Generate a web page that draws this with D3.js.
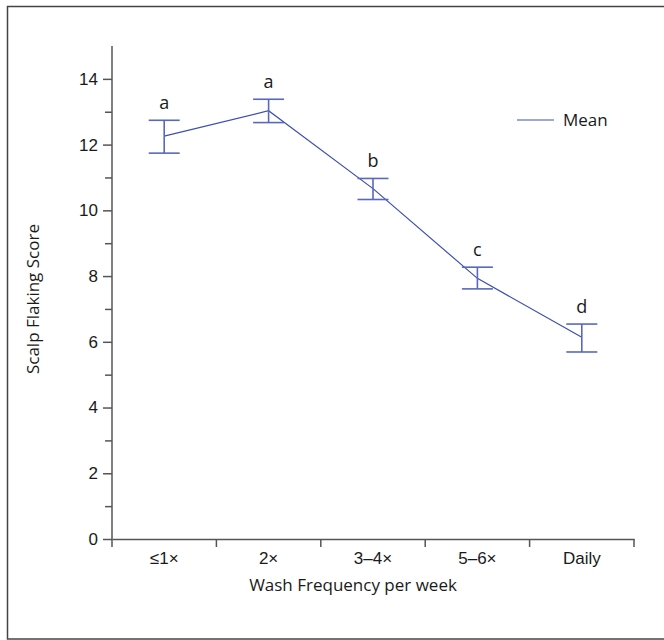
<!DOCTYPE html>
<html>
<head>
<meta charset="utf-8">
<script src="https://cdn.jsdelivr.net/npm/d3@7"></script>
<style>
  html, body { margin: 0; padding: 0; background: #fff; }
  svg { display: block; font-family: "Open Sans", "Noto Sans", sans-serif; }
</style>
</head>
<body>
<script>
// Wash frequency groups and scalp flaking scores (mean with error range)
const categories = ["≤1×", "2×", "3–4×", "5–6×", "Daily"];
const means      = [12.26, 13.03, 10.66, 7.93, 6.14];
const upper      = [12.74, 13.38, 10.97, 8.27, 6.54];
const lower      = [11.74, 12.67, 10.33, 7.61, 5.69];
const groupLetters = ["a", "a", "b", "c", "d"];
const yTicks     = [0, 2, 4, 6, 8, 10, 12, 14];
const yMinorTicks = [1, 3, 5, 7, 9, 11, 13];

const W = 664, H = 640;
const margin = { left: 112, right: 30, top: 46, bottom: 101 };

const svg = d3.select("body").append("svg")
  .attr("width", W).attr("height", H);

// outer frame
svg.append("rect")
  .attr("x", 7.5).attr("y", 6.5)
  .attr("width", 680).attr("height", 632.5)
  .attr("fill", "none").attr("stroke", "#444").attr("stroke-width", 1.5);

const x = d3.scaleBand()
  .domain(categories)
  .range([margin.left, W - margin.right]);

const y = d3.scaleLinear()
  .domain([0, 15])
  .range([H - margin.bottom, margin.top]);

const axisColor = "#555";
const textColor = "#1a1a1a";
const fontSize = "17px";

// y axis: major ticks with labels, minor ticks between
const yAxis = svg.append("g")
  .attr("transform", `translate(${margin.left},0)`)
  .call(d3.axisLeft(y).tickValues(yTicks).tickSize(9).tickPadding(5).tickSizeOuter(0));
svg.append("g")
  .attr("transform", `translate(${margin.left},0)`)
  .call(d3.axisLeft(y).tickValues(yMinorTicks).tickSize(7).tickFormat("").tickSizeOuter(0))
  .call(g => g.select(".domain").remove());

// y axis spine extends slightly below zero
yAxis.select(".domain")
  .attr("d", `M0,${y(15)}V${y(0) + 8}`);

// x axis with ticks at group boundaries
const xAxis = svg.append("g")
  .attr("transform", `translate(0,${y(0)})`)
  .call(d3.axisBottom(x).tickSize(0).tickPadding(13).tickSizeOuter(0));
const boundaries = categories.map(c => x(c)).concat([x.range()[1]]);
xAxis.selectAll(".boundary")
  .data(boundaries.slice(1))
  .join("line")
  .attr("class", "boundary")
  .attr("x1", d => d).attr("x2", d => d)
  .attr("y1", 0).attr("y2", 8);

svg.selectAll(".domain, .tick line, .boundary")
  .attr("stroke", axisColor).attr("stroke-width", 1.5);
svg.selectAll(".tick text")
  .attr("fill", textColor).style("font-size", fontSize);

// axis titles
svg.append("text")
  .attr("x", 353)
  .attr("y", 591)
  .attr("text-anchor", "middle")
  .attr("fill", textColor)
  .style("font-size", fontSize)
  .text("Wash Frequency per week");

svg.append("text")
  .attr("transform", `translate(39,${y(7.3)}) rotate(-90)`)
  .attr("text-anchor", "middle")
  .attr("fill", textColor)
  .style("font-size", fontSize)
  .text("Scalp Flaking Score");

const cx = d => x(d) + x.bandwidth() / 2;
const lineColor = "#3e4fb0";
const barColor = "#5868bd";
const capHalf = 15.5;

// mean line
const pts = categories.map((c, i) => [cx(c), y(means[i])]);
svg.append("path")
  .attr("d", d3.line()(pts))
  .attr("fill", "none")
  .attr("stroke", lineColor)
  .attr("stroke-width", 1.2);

// error bars
const eb = svg.append("g").attr("stroke", barColor).attr("stroke-width", 1.6);
categories.forEach((c, i) => {
  const px = cx(c);
  eb.append("line").attr("x1", px).attr("x2", px)
    .attr("y1", y(upper[i])).attr("y2", y(lower[i]));
  eb.append("line").attr("x1", px - capHalf).attr("x2", px + capHalf)
    .attr("y1", y(upper[i])).attr("y2", y(upper[i]));
  eb.append("line").attr("x1", px - capHalf).attr("x2", px + capHalf)
    .attr("y1", y(lower[i])).attr("y2", y(lower[i]));
});

// significance group letters
svg.selectAll(".letter")
  .data(categories)
  .join("text")
  .attr("class", "letter")
  .attr("x", d => cx(d))
  .attr("y", (d, i) => y(upper[i]) - 11)
  .attr("text-anchor", "middle")
  .attr("fill", textColor)
  .style("font-size", "18px")
  .text((d, i) => groupLetters[i]);

// legend
const lg = svg.append("g").attr("transform", "translate(517,120)");
lg.append("line").attr("x1", 0).attr("x2", 37).attr("y1", 0).attr("y2", 0)
  .attr("stroke", lineColor).attr("stroke-width", 1.2);
lg.append("text").attr("x", 46).attr("y", 6)
  .attr("fill", textColor).style("font-size", fontSize).text("Mean");
</script>
</body>
</html>
